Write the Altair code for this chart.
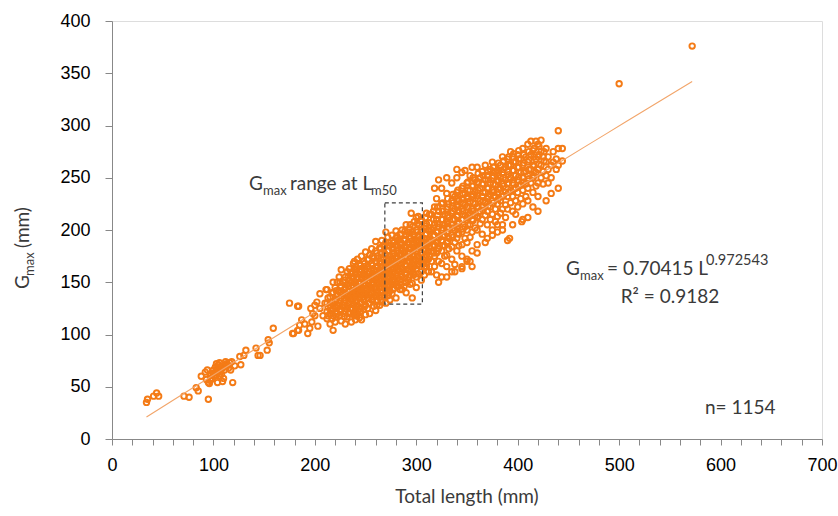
import altair as alt
import pandas as pd

# ---------------- data ----------------
SMALL_TL = [34, 35, 41, 44, 46, 71, 76, 83, 85, 95,
            92, 88, 96, 97, 104, 109, 119, 106, 98, 100,
            102, 104, 106, 108, 110, 112, 114, 116, 101, 103,
            105, 107, 109, 111, 113, 99, 118, 126, 127, 130,
            132, 142, 144, 146, 153, 154, 155, 159, 175, 179,
            183, 184, 93, 97, 102, 107, 111, 115, 100, 105,
            94, 98, 103, 108, 112, 117, 121, 95, 110, 106]
SMALL_G = [35, 38, 41, 44, 41, 41, 40, 49, 46, 38,
           64, 60, 53, 56, 54, 55, 54, 60, 62, 63,
           64, 66, 67, 68, 69, 70, 71, 73, 60, 61,
           65, 67, 68, 70, 72, 58, 74, 79, 71, 80,
           85, 87, 80, 80, 85, 95, 92, 106, 130, 101,
           127, 104, 57, 61, 69, 64, 66, 68, 66, 71,
           66, 58, 72, 62, 74, 66, 70, 54, 58, 73]

MID_TL = [184, 196, 198, 187, 197, 195, 203, 193, 185, 202,
          205, 211, 178, 183, 190, 200, 205, 208, 210, 200]
MID_G = [127, 125, 120, 114, 112, 106, 108, 101, 109, 131,
         139, 143, 101, 104, 110, 118, 125, 118, 130, 128]

BAND_TL = [212, 215, 218, 220, 222, 224, 226, 228, 230, 232,
           234, 236, 238, 239, 240, 242, 244, 246, 248, 250,
           252, 254, 256, 258, 260, 262, 264, 266, 268, 270,
           272, 274, 276, 278, 280, 282, 284, 286, 288, 290,
           292, 294, 295, 296, 298, 300, 302, 303, 305, 308,
           310, 312, 315, 318, 320, 322, 325, 328, 330, 332,
           335, 338, 340, 342, 345, 348, 350, 353, 355, 358,
           360, 363, 365, 368, 370, 373, 375, 378, 380, 383,
           385, 388, 390, 393, 395, 398, 400, 403, 405, 408,
           410, 413, 415, 418, 420, 423, 425, 428, 430, 433,
           435, 438, 440, 444]
BAND_G = [
    [143, 130, 122, 115], [128, 120, 136, 110], [150, 140, 125, 118, 104], [132, 145, 112, 126],
    [138, 120, 150, 128], [142, 130, 118, 155], [162, 135, 124, 146, 113], [140, 128, 150, 120],
    [155, 133, 145, 122, 138, 110], [148, 127, 160, 137, 117],
    [152, 141, 130, 163, 121], [145, 158, 134, 125, 150, 112], [168, 140, 155, 129, 147, 120],
    [170, 136, 162, 118], [150, 143, 158, 131, 125, 165, 114], [146, 138, 155, 128, 172, 120],
    [160, 150, 135, 142, 168, 125, 116], [153, 145, 138, 162, 130, 114, 175],
    [158, 148, 140, 170, 133, 124], [179, 155, 147, 162, 138, 128, 119],
    [165, 150, 143, 158, 135, 172, 125], [160, 152, 145, 176, 138, 130, 120],
    [168, 155, 148, 140, 182, 133], [162, 150, 173, 144, 136, 127, 158],
    [189, 170, 160, 152, 145, 138, 123, 180], [165, 155, 148, 175, 140, 132],
    [170, 160, 152, 183, 145, 136, 128], [178, 164, 156, 148, 140, 190, 131],
    [172, 162, 155, 185, 147, 138], [198, 176, 166, 158, 150, 143, 130, 188],
    [180, 170, 162, 154, 146, 193, 137], [175, 166, 158, 185, 150, 142, 133],
    [182, 172, 163, 155, 148, 195, 139], [178, 168, 160, 188, 152, 144],
    [199, 185, 173, 165, 157, 149, 135, 192], [180, 170, 162, 190, 154, 146],
    [186, 176, 168, 160, 196, 152, 143], [182, 172, 164, 143, 156, 200],
    [190, 178, 170, 162, 154, 146], [195, 184, 175, 166, 158, 150, 140, 205],
    [188, 178, 170, 162, 198, 152], [205, 192, 182, 173, 165, 157, 148], [216, 160],
    [186, 176, 168, 149, 135, 198], [195, 184, 175, 166, 158, 208],
    [200, 190, 180, 171, 163, 155, 145, 212], [213, 194, 184, 175, 167, 158], [205, 188, 170],
    [198, 188, 178, 170, 160, 152, 210], [202, 192, 182, 174, 165, 157],
    [165, 206, 196, 185, 176, 168, 216], [160, 200, 190, 180, 172],
    [215, 200, 190, 180, 170, 160], [222, 205, 195, 185, 175, 165, 240],
    [230, 210, 198, 188, 178, 157], [218, 203, 192, 182, 170, 248],
    [240, 225, 210, 200, 190, 180, 168, 155], [215, 205, 195, 185, 175],
    [235, 220, 208, 198, 188, 176, 165, 250], [225, 212, 202, 192, 182],
    [245, 228, 216, 205, 195, 184, 172, 160], [232, 220, 210, 200, 188, 167],
    [250, 236, 224, 213, 203, 192, 180, 258], [228, 218, 207, 196, 185],
    [255, 240, 230, 220, 210, 198, 186, 175, 165], [257, 235, 224, 214, 203, 192],
    [245, 232, 222, 212, 200, 188, 172], [252, 238, 227, 216, 205, 193, 170],
    [260, 242, 232, 220, 210, 198, 180], [248, 236, 225, 214, 202],
    [260, 245, 233, 222, 212, 200, 186], [250, 240, 228, 218, 206],
    [256, 244, 232, 222, 210, 196], [262, 248, 236, 226, 214],
    [252, 240, 230, 218, 205, 192], [258, 245, 234, 222, 210],
    [265, 250, 238, 228, 215, 200], [256, 243, 232, 220, 208],
    [257, 248, 236, 225, 213, 198], [262, 250, 240, 228, 216],
    [270, 255, 244, 232, 220, 205], [260, 248, 236, 224, 212],
    [268, 256, 244, 232, 220, 190], [275, 262, 250, 238, 226],
    [270, 257, 245, 232, 218, 205], [265, 252, 240, 228],
    [272, 260, 248, 236, 222], [268, 255, 243, 230],
    [278, 262, 250, 238, 225, 210], [270, 256, 244, 232],
    [282, 265, 252, 240, 228], [285, 272, 258, 245],
    [276, 262, 250, 236], [285, 268, 255, 242],
    [282, 270, 258, 245, 232], [286, 275, 262, 250],
    [270, 256, 244], [278, 265, 252], [270, 258, 245], [262, 250],
    [275, 265], [268, 258], [295, 278, 262], [278, 266],
]

BAND2_TL = [213, 217, 221, 225, 229, 233, 237, 241, 245, 249,
            253, 257, 261, 265, 269, 273, 277, 281, 285, 289,
            293, 297, 301, 305, 309, 313, 317, 321, 326, 331,
            336, 341, 346, 351, 356, 361, 366, 371, 376, 381,
            386, 391, 396, 401, 406, 411, 416, 421, 426]
BAND2_G = [
    [135, 126, 118], [140, 131, 123, 115], [142, 134, 125, 117], [150, 140, 132, 122, 128],
    [152, 143, 135, 126, 117], [156, 146, 138, 129, 120, 134], [160, 150, 142, 133, 124, 137],
    [162, 153, 145, 136, 128, 140, 118], [166, 157, 149, 140, 131, 122, 144],
    [168, 160, 152, 144, 136, 127, 148], [172, 163, 155, 147, 139, 130, 150],
    [175, 166, 158, 150, 142, 134, 153], [178, 169, 161, 153, 145, 137, 157, 128],
    [182, 173, 165, 157, 149, 141, 161, 133], [186, 177, 169, 161, 153, 145, 165, 136],
    [188, 180, 172, 164, 156, 148, 168, 140], [190, 183, 175, 167, 159, 151, 171, 143],
    [194, 186, 178, 170, 162, 154, 174, 146], [196, 188, 180, 172, 164, 156, 177, 148],
    [199, 191, 183, 175, 167, 159, 180, 150], [201, 194, 186, 178, 170, 162, 183, 155],
    [204, 196, 188, 180, 172, 164, 186, 157], [206, 198, 190, 182, 174, 166, 188],
    [208, 200, 192, 184, 176, 168], [212, 204, 196, 188, 180, 171],
    [215, 207, 199, 191, 183, 175], [218, 210, 202, 194, 186, 178],
    [222, 214, 206, 198, 190, 180], [226, 218, 210, 202, 194, 185],
    [230, 222, 214, 206, 198, 189], [234, 226, 218, 210, 202, 193],
    [238, 230, 222, 214, 206, 197], [242, 234, 226, 218, 210, 201],
    [246, 238, 230, 222, 214, 205], [250, 242, 234, 226, 218, 209],
    [254, 246, 238, 230, 222, 213], [252, 244, 236, 228, 219],
    [256, 248, 240, 232, 223], [260, 252, 244, 236, 226],
    [264, 255, 247, 239, 230], [266, 258, 250, 242, 233],
    [270, 262, 253, 245, 236], [273, 265, 257, 248, 239],
    [276, 268, 260, 251, 242], [272, 264, 255, 246],
    [275, 267, 258, 249], [278, 270, 261, 252],
    [280, 272, 263], [275, 266],
]

# lower edge of the right-hand cloud
LOW_TL = [322, 330, 338, 345, 350, 355, 360, 368, 375, 385,
          392, 398, 404, 410, 415, 420, 428, 433, 440, 380]
LOW_G = [150, 155, 160, 163, 170, 165, 178, 188, 195, 200,
         192, 215, 208, 212, 222, 218, 228, 235, 240, 205]

OUT_TL = [500, 572]
OUT_G = [340, 376]

BOX_TL = [269, 306]
BOX_G = [129, 226]

X_TICKS = list(range(0, 701, 20))
Y_TICKS = list(range(0, 401, 50))

# ---------------- table ----------------
rows = []
for tl_list, g_list in ((SMALL_TL, SMALL_G), (MID_TL, MID_G), (LOW_TL, LOW_G), (OUT_TL, OUT_G)):
    for a, b in zip(tl_list, g_list):
        rows.append({"tl": a, "g": b})
for tls, gss in ((BAND_TL, BAND_G), (BAND2_TL, BAND2_G)):
    for a, gs in zip(tls, gss):
        for b in gs:
            rows.append({"tl": a, "g": b})
df = pd.DataFrame(rows)

ORANGE = "#F47B16"
TXT = "#3a3a3a"
AX = "#595959"
FONT = "Lato"

OX, OY = 112, 21  # plot origin in the page
W, H = 710, 418

xs = alt.Scale(domain=[0, 700], nice=False, zero=False)
ys = alt.Scale(domain=[0, 400], nice=False, zero=False)

X_AXIS = alt.Axis(
    values=X_TICKS,
    labelExpr="datum.value % 100 === 0 ? format(datum.value, 'd') : ''",
    labelOverlap=False, labelFlush=False, title=None, grid=False,
    tickSize=6, labelPadding=11, labelFontSize=18)
Y_AXIS = alt.Axis(
    values=Y_TICKS, title=None, grid=False,
    labelOverlap=False, labelFlush=False,
    tickSize=7, labelPadding=15, labelFontSize=18)

points = alt.Chart(df).mark_point(
    shape="circle", filled=False, color=ORANGE, size=30, strokeWidth=1.9, opacity=1
).encode(
    x=alt.X("tl:Q", scale=xs, axis=X_AXIS),
    y=alt.Y("g:Q", scale=ys, axis=Y_AXIS),
)

trend = alt.Chart(df).transform_regression(
    "tl", "g", method="pow", extent=[34, 572]
).mark_line(color="#F2A56A", strokeWidth=1.1).encode(
    x=alt.X("tl:Q", scale=xs, axis=X_AXIS), y=alt.Y("g:Q", scale=ys, axis=Y_AXIS)
)

box = alt.Chart(pd.DataFrame({"tl": [BOX_TL[0]], "x2": [BOX_TL[1]],
                              "g": [BOX_G[0]], "y2": [BOX_G[1]]})).mark_rect(
    fillOpacity=0, stroke="#404040", strokeDash=[4, 3], strokeWidth=1.2
).encode(x=alt.X("tl:Q", scale=xs, axis=X_AXIS), x2="x2:Q",
         y=alt.Y("g:Q", scale=ys, axis=Y_AXIS), y2="y2:Q")

one = pd.DataFrame({"k": [0]})


def txt(s, px, py, size=19, angle=0, align="left"):
    kw = dict(text=s, font=FONT, fontSize=size, color=TXT, align=align,
              baseline="alphabetic")
    if angle:
        kw["angle"] = angle
    return alt.Chart(one).mark_text(**kw).encode(
        x=alt.value(px - OX), y=alt.value(py - OY))


texts = [
    # annotation above box
    txt("G", 249, 190), txt("max", 263, 195, 13), txt("range at L", 290, 190),
    txt("m50", 371, 195, 13),
    # equation
    txt("G", 566, 275), txt("max", 580, 280, 13), txt("= 0.70415 L", 607, 275),
    txt("0.972543", 706, 265, 14.5),
    txt("R² = 0.9182", 670, 303, align="center"),
    txt("n= 1154", 705, 414),
    # axis titles
    txt("Total length (mm)", 467, 503, align="center"),
    txt("G", 29, 289, angle=270), txt("max", 34, 276, 13, angle=270),
    txt("(mm)", 29, 248, angle=270),
]

chart = alt.layer(points, trend, box, *texts).properties(
    width=W, height=H,
    padding={"left": OX, "top": OY, "right": 838 - OX - W, "bottom": 516 - OY - H},
    autosize=alt.AutoSizeParams(type="none"),
).configure_view(stroke=None).configure_axis(
    domainColor=AX, tickColor=AX, labelColor=TXT, labelFont=FONT,
    domainWidth=1.2, tickWidth=1.2, labelOverlap=False, labelFlush=False,
).configure(background="white")

chart.save("out.html", embed_options={"renderer": "svg", "actions": False})
